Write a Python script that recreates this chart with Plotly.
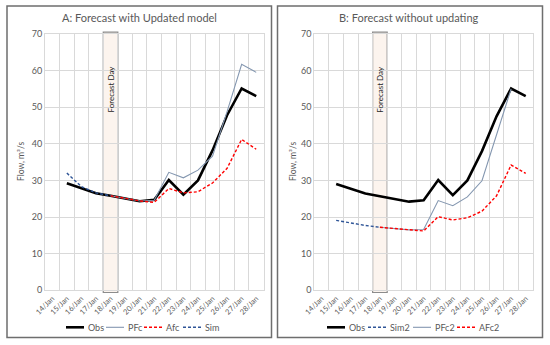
import plotly.graph_objects as go

dates = ["14/Jan", "15/Jan", "16/Jan", "17/Jan", "18/Jan", "19/Jan", "20/Jan", "21/Jan",
         "22/Jan", "23/Jan", "24/Jan", "25/Jan", "26/Jan", "27/Jan", "28/Jan"]
forecast_day = "18/Jan"

# Panel A
obs = [None, 29.2, 27.9, 26.5, 25.8, 25.1, 24.3, 24.7, 30.1, 26.1, 30.0, 38.2, 47.8, 55.1, 53.0]
pfc = [None, None, None, None, 25.8, 25.1, 24.4, 24.6, 32.2, 30.7, 32.8, 36.6, 48.8, 61.7, 59.5]
afc = [None, None, None, None, 25.8, 25.1, 24.4, 24.0, 27.8, 26.6, 26.9, 29.3, 33.3, 41.2, 38.5]
sim = [None, 32.0, 28.3, 26.6, 25.8, None, None, None, None, None, None, None, None, None, None]

# Panel B
obs2 = [None, 29.0, 27.8, 26.4, 25.7, 25.0, 24.2, 24.6, 30.1, 26.0, 30.0, 38.0, 47.5, 55.1, 53.0]
sim2 = [None, 19.1, 18.3, 17.7, 17.2, None, None, None, None, None, None, None, None, None, None]
pfc2 = [None, None, None, None, 17.2, 16.8, 16.5, 16.6, 24.5, 23.1, 25.5, 29.9, 42.5, 55.0, None]
afc2 = [None, None, None, None, 17.2, 16.8, 16.5, 16.2, 20.1, 19.2, 19.8, 21.6, 25.8, 34.2, 31.9]

W, H = 550, 345
FONT = "Lato"
GREY_TXT = "#595959"
GRID = "#d9d9d9"

STYLE = {
    "Obs": dict(color="#000000", width=2.6, dash="solid"),
    "PFc": dict(color="#8497b0", width=1.1, dash="solid"),
    "Afc": dict(color="#ff0000", width=1.4, dash="3px,2px"),
    "Sim": dict(color="#2f5597", width=1.4, dash="3px,2px"),
}

panels = [
    dict(xa="x", ya="y", series=[("Obs", obs, "Obs"), ("PFc", pfc, "PFc"),
                                 ("Afc", afc, "Afc"), ("Sim", sim, "Sim")],
         legend_x=[66, 106, 144, 183]),
    dict(xa="x2", ya="y2", series=[("Obs", obs2, "Obs"), ("Sim2", sim2, "Sim"),
                                   ("PFc2", pfc2, "PFc"), ("AFc2", afc2, "Afc")],
         legend_x=[327, 368, 413, 457]),
]
LEGEND_Y = 327.3
KEY_LEN = 18

fig = go.Figure()
for p in panels:
    for name, vals, sty in p["series"]:
        fig.add_trace(go.Scatter(x=dates, y=vals, name=name, mode="lines",
                                 line=STYLE[sty], xaxis=p["xa"], yaxis=p["ya"],
                                 connectgaps=False, hoverinfo="skip", showlegend=False))

ydom = [1 - 290.3 / H, 1 - 33.9 / H]
xdomA = [45 / W, 263.5 / W]
xdomB = [314.3 / W, 533 / W]

xcommon = dict(type="category", categoryorder="array", categoryarray=dates,
               range=[-0.5, len(dates) - 0.5], tickson="boundaries",
               showgrid=True, gridcolor=GRID, gridwidth=1, ticks="", ticklen=0,
               tickangle=-45, tickfont=dict(family=FONT, size=7.5, color=GREY_TXT),
               showline=True, linecolor=GRID, linewidth=1, mirror=True, zeroline=False,
               fixedrange=True, automargin=False)
ycommon = dict(range=[0, 70], dtick=10, showgrid=True, gridcolor=GRID, gridwidth=1,
               ticks="", tickfont=dict(family=FONT, size=9, color=GREY_TXT),
               showline=True, linecolor=GRID, linewidth=1, mirror=True, zeroline=False,
               fixedrange=True, automargin=False)

fig.update_layout(
    width=W, height=H, autosize=False,
    margin=dict(l=0, r=0, t=0, b=0, autoexpand=False),
    paper_bgcolor="white", plot_bgcolor="white",
    font=dict(family=FONT, color=GREY_TXT),
    xaxis=dict(domain=xdomA, anchor="y", **xcommon),
    yaxis=dict(domain=ydom, anchor="x", **ycommon),
    xaxis2=dict(domain=xdomB, anchor="y2", **xcommon),
    yaxis2=dict(domain=ydom, anchor="x2", **ycommon),
    showlegend=False,
)

# Panel borders
for x0, x1 in [(7, 271.5), (277.5, 542.5)]:
    fig.add_shape(type="rect", xref="paper", yref="paper",
                  x0=x0 / W, x1=x1 / W, y0=1 - 337.5 / H, y1=1 - 6 / H,
                  line=dict(color="#6e6e6e", width=1.5), fillcolor="rgba(0,0,0,0)", layer="above")

# Forecast day bar (category span of the forecast day)
fi = dates.index(forecast_day)
n = len(dates)
for p in panels:
    xa, ya = p["xa"], p["ya"]
    fig.add_shape(type="rect", xref=xa + " domain", yref=ya + " domain",
                  x0=fi / n, x1=(fi + 1) / n, y0=-0.6 / 70, y1=70.5 / 70,
                  line=dict(color="#8c8c8c", width=1.2), fillcolor="#fcf4ee", layer="below")
    fig.add_annotation(x=forecast_day, y=55, xref=xa, yref=ya, text="Forecast Day",
                       textangle=-90, showarrow=False, xanchor="center", yanchor="middle",
                       font=dict(family=FONT, size=8, color="#262626"))

# Legends (keys + labels)
for p in panels:
    for (name, vals, sty), lx in zip(p["series"], p["legend_x"]):
        st = STYLE[sty]
        fig.add_shape(type="line", xref="paper", yref="paper",
                      x0=lx / W, x1=(lx + KEY_LEN) / W, y0=1 - LEGEND_Y / H, y1=1 - LEGEND_Y / H,
                      line=dict(color=st["color"], width=st["width"], dash=st["dash"]))
        fig.add_annotation(x=(lx + KEY_LEN + 1.5) / W, y=1 - LEGEND_Y / H, xref="paper", yref="paper",
                           text=name, showarrow=False, xanchor="left", yanchor="middle",
                           font=dict(family=FONT, size=9, color=GREY_TXT))

# Titles and y-axis titles
for cx, txt in [(139, "A: Forecast with Updated model"), (409, "B: Forecast without updating")]:
    fig.add_annotation(x=cx / W, y=1 - 17.5 / H, xref="paper", yref="paper", text=txt,
                       showarrow=False, xanchor="center", yanchor="middle",
                       font=dict(family=FONT, size=11, color=GREY_TXT))
for cx in [21, 293]:
    fig.add_annotation(x=cx / W, y=1 - 162 / H, xref="paper", yref="paper",
                       text="Flow, m³/s", textangle=-90, showarrow=False,
                       xanchor="center", yanchor="middle",
                       font=dict(family=FONT, size=8.5, color=GREY_TXT))

fig.write_html("out.html", config={"displayModeBar": False},
               post_script="document.body.style.margin='0px';")
